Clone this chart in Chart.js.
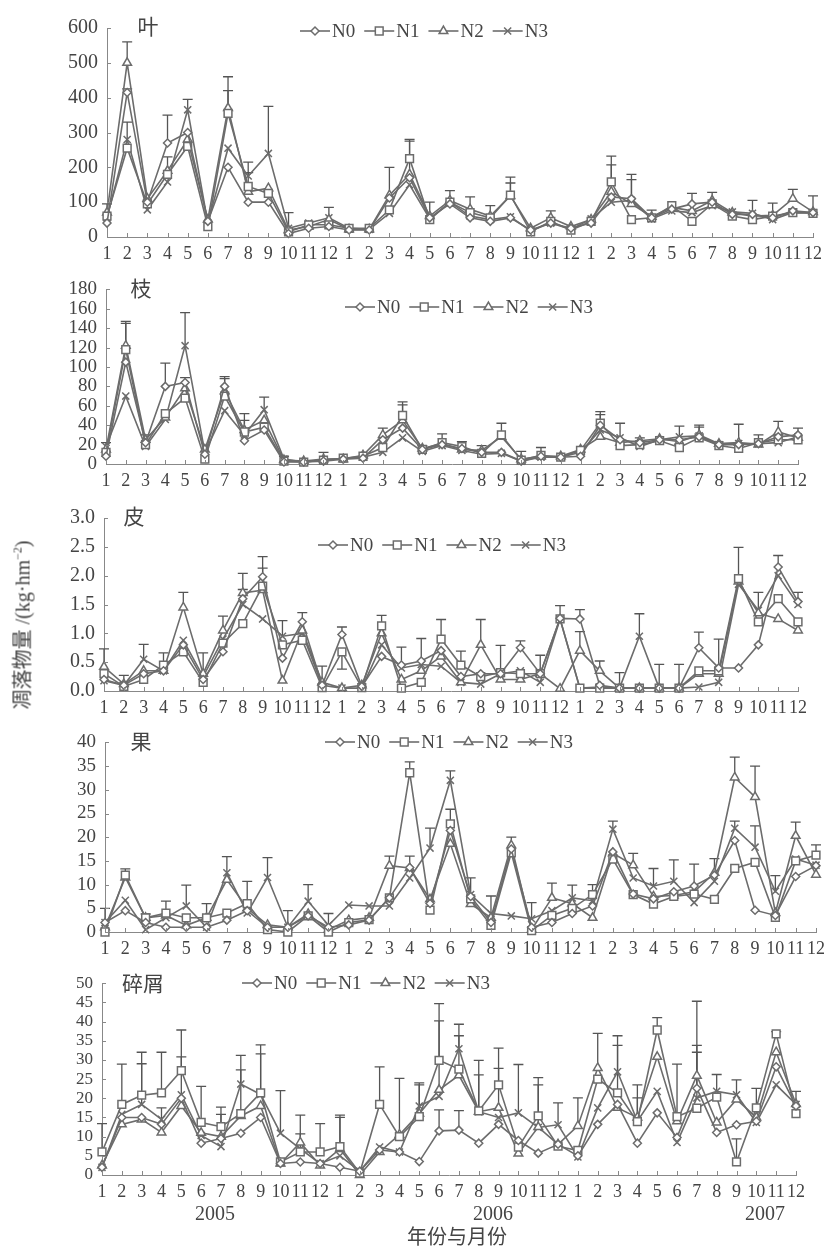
<!DOCTYPE html>
<html>
<head>
<meta charset="utf-8">
<script src="https://cdn.jsdelivr.net/npm/chart.js@4.4.0/dist/chart.umd.min.js"></script>
<style>
  body { margin: 0; background: #fff; }
  #wrap { position: relative; width: 835px; height: 1247px; overflow: hidden; }
  .pn { position: absolute; left: 0; width: 835px; }
  .txt { position: absolute; color: #444; white-space: nowrap;
         font-family: "Liberation Serif", "Noto Sans CJK SC", serif; }
</style>
</head>
<body>
<div id="wrap">
  <div class="pn" id="p1"><canvas id="c1"></canvas></div>
  <div class="pn" id="p2"><canvas id="c2"></canvas></div>
  <div class="pn" id="p3"><canvas id="c3"></canvas></div>
  <div class="pn" id="p4"><canvas id="c4"></canvas></div>
  <div class="pn" id="p5"><canvas id="c5"></canvas></div>
</div>
<script>
// ---- data: monthly litterfall, Jan 2005 .. Dec 2007 ----
const months = ['1','2','3','4','5','6','7','8','9','10','11','12',
                '1','2','3','4','5','6','7','8','9','10','11','12',
                '1','2','3','4','5','6','7','8','9','10','11','12'];
const seriesNames = ['N0', 'N1', 'N2', 'N3'];

// 叶
const leafN0 = [40,415,100,270,300,45,200,100,100,10,25,30, 20,20,112,170,55,95,55,45,55,20,40,25, 40,115,110,55,80,95,100,65,65,55,75,70];
const leafN1 = [60,255,95,180,260,30,355,145,125,15,35,35, 25,25,78,225,50,100,70,55,120,15,45,20, 45,158,50,55,90,45,95,60,50,60,70,68];
const leafN2 = [70,500,110,190,280,50,370,130,140,20,30,50, 22,22,120,180,60,105,80,60,118,25,55,30, 50,130,95,58,85,75,105,70,60,62,110,72];
const leafN3 = [55,280,78,158,365,40,255,175,240,25,40,55, 25,22,68,150,52,100,60,50,58,18,40,22, 52,100,105,52,75,70,90,72,68,50,70,70];
// error bar tops: [month index, series index, top value]
const leafErr = [[0,1,95],[1,2,560],[1,0,425],[1,3,330],[3,0,350],[3,1,230],[4,3,395],[6,2,460],[6,1,420],
  [7,3,215],[7,1,185],[8,3,375],[9,3,70],[11,3,85],[14,0,200],[15,1,280],[15,0,275],[16,2,100],[17,1,133],
  [18,2,115],[19,2,90],[20,1,172],[20,2,155],[22,2,75],[25,1,232],[25,2,207],[26,0,180],[26,3,165],[27,2,77],
  [29,0,125],[30,2,128],[32,3,105],[33,2,97],[34,2,137],[35,2,118]];

// 枝
const twigN0 = [8,105,22,80,84,10,80,24,35,2,2,3, 5,6,25,37,15,20,16,12,12,3,8,7, 8,40,25,22,25,25,28,20,20,21,28,30];
const twigN1 = [12,118,20,52,68,5,70,33,38,3,2,4, 6,8,17,50,15,22,18,11,30,4,9,7, 14,42,19,20,24,17,27,19,16,22,25,25];
const twigN2 = [15,122,25,48,78,15,75,35,45,4,3,5, 5,9,30,45,16,21,15,14,28,5,8,8, 15,28,22,24,26,23,30,21,22,20,33,27];
const twigN3 = [18,70,18,46,122,12,55,30,56,5,2,4, 6,7,12,27,13,19,14,10,11,3,7,7, 12,35,27,18,25,28,29,20,21,21,22,28];
const twigErr = [[0,3,22],[1,2,147],[1,1,145],[2,2,30],[3,0,104],[4,3,156],[4,0,89],[6,0,90],[6,2,88],[7,2,52],
  [7,1,45],[8,3,69],[9,3,8],[11,2,12],[14,2,37],[15,1,64],[15,2,61],[16,1,19],[17,1,31],[18,1,23],[19,2,19],
  [20,2,42],[21,3,13],[22,2,17],[25,1,54],[25,0,51],[26,0,42],[27,2,27],[29,3,39],[30,3,40],[30,2,38],
  [32,3,41],[33,2,30],[34,2,44],[35,2,37]];

// 皮
const barkN0 = [0.2,0.1,0.3,0.35,0.8,0.2,0.68,1.6,1.98,0.57,1.2,0.1, 0.98,0.08,0.6,0.45,0.52,0.7,0.25,0.3,0.3,0.75,0.3,1.26, 1.25,0.1,0.05,0.05,0.05,0.05,0.75,0.4,0.4,0.8,2.15,1.55];
const barkN1 = [0.3,0.08,0.2,0.45,0.68,0.15,0.83,1.17,1.82,0.8,0.88,0.06, 0.68,0.06,1.13,0.05,0.15,0.9,0.45,0.25,0.32,0.3,0.3,1.25, 0.05,0.05,0.05,0.05,0.05,0.05,0.35,0.35,1.95,1.2,1.6,1.2];
const barkN2 = [0.42,0.12,0.35,0.35,1.45,0.3,1.05,1.7,1.75,0.18,1.05,0.15, 0.05,0.1,1.0,0.2,0.35,0.6,0.15,0.8,0.2,0.2,0.3,0.04, 0.7,0.35,0.05,0.05,0.05,0.05,0.3,0.3,1.9,1.35,1.25,1.05];
const barkN3 = [0.18,0.1,0.55,0.35,0.88,0.25,0.9,1.5,1.25,0.95,1.0,0.1, 0.05,0.05,0.8,0.4,0.46,0.43,0.15,0.12,0.3,0.35,0.15,1.25, 0.05,0.07,0.05,0.95,0.05,0.05,0.07,0.15,1.85,1.4,2.0,1.5];
const barkErr = [[0,2,0.73],[1,1,0.27],[2,3,0.81],[3,1,0.66],[4,2,1.71],[5,2,0.66],[6,2,1.3],[7,2,2.04],[7,0,1.76],
  [8,0,2.33],[8,1,2.13],[9,3,1.22],[10,0,1.36],[11,2,0.43],[12,0,1.11],[12,1,0.38],[14,1,1.31],[15,0,0.76],
  [16,0,0.91],[17,1,1.24],[18,1,0.69],[19,2,1.24],[20,0,0.79],[21,0,0.87],[22,1,0.62],[23,0,1.48],[24,0,1.41],
  [24,2,1.03],[25,2,0.52],[26,2,0.32],[27,3,1.34],[28,0,0.46],[29,0,0.46],[30,0,1.02],[31,1,0.9],[32,1,2.49],
  [33,3,1.71],[34,0,2.35],[35,0,1.71]];

// 果
const fruitN0 = [2,4.5,2,1,1,1,2.5,4.5,1,1,3.4,1, 1.5,2.5,7.2,13.6,6,21.4,7.5,2,17.5,1,2,3.9, 5.5,16.9,8,7,8.5,9.7,12,19.3,4.6,3.5,11.7,14];
const fruitN1 = [0,12,3,4,3,3,4,6,0.5,0,3.4,0, 2,2.6,7.2,33.6,4.6,22.8,7,1.4,16.7,0.3,3.5,5, 7.9,15.4,7.9,5.9,7.5,8,6.9,13.4,14.7,3.1,15,16.2];
const fruitN2 = [1,11.5,3,3.5,1.4,3,11,5,1.5,1,3.8,0.5, 2.5,3,14,13.5,6.9,18.6,5.9,3,18.3,0.5,7.2,6, 3,16.6,14.1,7.5,7.7,8.5,12.5,32.6,28.5,4,20.3,12.1];
const fruitN3 = [2,6.7,0.5,3,5.5,1,12.5,4,11.5,1,6.5,1.4, 5.7,5.5,5.5,11.4,17.7,32,7.9,3.9,3.4,2.8,4.5,7.2, 6.6,21.7,11.4,9.7,10.7,6.2,10.7,21.9,17.9,8.6,15.4,14.1];
const fruitErr = [[0,3,5],[1,1,13.3],[2,1,3.8],[3,1,6.5],[4,3,9.9],[5,1,6],[6,3,15.9],[7,1,10.7],[8,3,15.7],
  [9,3,4.5],[10,3,10],[11,3,3.9],[14,2,16],[15,1,35.9],[15,0,16],[16,3,21.9],[17,3,34],[17,1,25.9],[18,3,11.4],
  [19,3,7.6],[20,2,20],[21,3,6.2],[22,2,10.3],[23,3,9.9],[24,1,10],[25,3,23.4],[26,2,16.6],[27,3,13.4],
  [28,3,15.2],[29,0,14.3],[30,2,15.5],[31,2,36.9],[31,3,23.4],[32,2,35],[32,3,22.4],[33,3,11.9],[34,2,23.2],
  [35,1,18.4]];

// 碎屑
const debrisN0 = [2,15,15,13.2,20,8.3,9.5,10.9,15,3,3.4,3, 2,1,6.5,6,3.5,11.5,11.7,8.3,13.2,9,5.7,8, 5,13.2,18.4,8.3,16.2,9.8,22.6,11.1,13.1,14,28.2,18];
const debrisN1 = [6,18.4,20.8,21.4,27.2,13.7,12.6,16,21.4,3.4,6,6, 7.4,0.5,18.4,10,15.2,29.9,27.6,16.7,23.5,7.3,15.4,7.5, 6.4,25,21.4,13.9,37.8,15.2,17.4,20.3,3.4,17.5,36.8,16];
const debrisN2 = [2.5,13.2,14.5,11.1,18,11,10,15.4,18,3,8.5,2.5, 6.8,0,6,10.5,16,22.2,26,16.5,17.5,5.6,12.5,8, 12.8,27.9,17.5,15,30.8,14,25.9,13.7,19.7,15,32,18.5];
const debrisN3 = [2,15.8,18.4,14.5,20.9,10.3,7.4,23.7,21,10.9,6.8,3, 5,1,7.3,6,18,20.5,32.9,16.5,15,16.2,12.4,13.1, 4.7,17.5,26.9,14,21.8,8.5,20.1,21.8,20.9,13.7,23.5,18.4];
const debrisErr = [[0,1,13.4],[1,1,28.9],[2,1,32],[2,3,29],[3,1,32],[3,3,17.5],[4,1,37.8],[4,3,30.8],[5,1,23.1],
  [6,1,17.7],[6,2,15.8],[7,3,31.2],[7,1,27.4],[8,1,33.9],[8,3,31.6],[9,3,22],[10,2,15.6],[10,3,10.7],[11,1,13.4],
  [12,1,15.6],[12,2,15],[14,1,28.2],[15,2,25.2],[16,3,24],[16,2,23.5],[17,1,44.7],[17,2,40.2],[17,0,17],
  [18,3,39.3],[18,1,36.3],[18,0,16.8],[19,1,29.9],[19,3,26.1],[20,1,33.1],[20,2,27.8],[21,3,28.8],[22,1,25.4],
  [22,2,23.5],[23,3,18.8],[24,2,20.1],[25,2,36.9],[26,3,36.3],[26,1,33.8],[27,2,23.5],[27,1,20.1],[28,1,41],
  [29,1,28.9],[30,2,45.3],[30,0,33.8],[30,3,32],[31,3,26.2],[32,3,24.8],[32,1,9.4],[33,1,22.6],[34,1,37.4],
  [35,2,21.8]];

// ---- styling ----
const LINE = '#6c6c6c';
const INK = '#444';
const SERIF = '"Liberation Serif", "Noto Sans CJK SC", serif';
const markers = [
  { style: 'rectRot', r: 4 },
  { style: 'rect', r: 5.5 },
  { style: 'triangle', r: 5 },
  { style: 'crossRot', r: 5 }
];

// panel geometry (page pixels)
const panels = [
  { id: 'c1', wrap: 'p1', yTop: 23,  yZero: 237,  axisX: 107, lastX: 813, max: 600, step: 100, dec: 0, fs: 20,
    title: '叶', tx: 148, series: [leafN0, leafN1, leafN2, leafN3], errs: leafErr, leg: [300, 31] },
  { id: 'c2', wrap: 'p2', yTop: 285, yZero: 464,  axisX: 106, lastX: 798, max: 180, step: 20, dec: 0, fs: 19,
    title: '枝', tx: 141, series: [twigN0, twigN1, twigN2, twigN3], errs: twigErr, leg: [345, 307] },
  { id: 'c3', wrap: 'p3', yTop: 513, yZero: 691,  axisX: 104, lastX: 798, max: 3, step: 0.5, dec: 1, fs: 20,
    title: '皮', tx: 134, series: [barkN0, barkN1, barkN2, barkN3], errs: barkErr, leg: [318, 545] },
  { id: 'c4', wrap: 'p4', yTop: 738, yZero: 932,  axisX: 105, lastX: 816, max: 40, step: 5, dec: 0, fs: 19,
    title: '果', tx: 141, series: [fruitN0, fruitN1, fruitN2, fruitN3], errs: fruitErr, leg: [325, 742] },
  { id: 'c5', wrap: 'p5', yTop: 980, yZero: 1175, axisX: 102, lastX: 796, max: 50, step: 5, dec: 0, fs: 17,
    title: '碎屑', tx: 143, series: [debrisN0, debrisN1, debrisN2, debrisN3], errs: debrisErr, leg: [242, 983] }
];

const PAD_TOP = 16, X_H = 30;

function drawMarker(ctx, m, x, y) {
  ctx.save();
  ctx.fillStyle = '#fff';
  ctx.strokeStyle = LINE;
  ctx.lineWidth = 1.5;
  Chart.helpers.drawPoint(ctx, { pointStyle: m.style, radius: m.r, rotation: 0, borderWidth: 1.5 }, x, y);
  ctx.restore();
}

const extras = {
  id: 'extras',
  beforeDatasetsDraw(chart, args, opts) {
    const p = opts.panel;
    const ctx = chart.ctx, xs = chart.scales.x, ys = chart.scales.y;
    ctx.save();
    ctx.strokeStyle = '#555';
    ctx.lineWidth = 1.3;
    p.errs.forEach(([i, s, top]) => {
      const x = xs.getPixelForValue(i);
      const y0 = ys.getPixelForValue(p.series[s][i]);
      const y1 = ys.getPixelForValue(top);
      ctx.beginPath();
      ctx.moveTo(x, y0); ctx.lineTo(x, y1);
      ctx.moveTo(x - 5, y1); ctx.lineTo(x + 5, y1);
      ctx.stroke();
    });
    ctx.restore();
  },
  afterDraw(chart, args, opts) {
    const p = opts.panel;
    const ctx = chart.ctx, xs = chart.scales.x, ys = chart.scales.y;
    const ca = chart.chartArea;
    ctx.save();
    // inward tick marks
    ctx.strokeStyle = '#888';
    ctx.lineWidth = 1;
    ctx.beginPath();
    ys.ticks.forEach(t => {
      const y = Math.round(ys.getPixelForValue(t.value)) + 0.5;
      ctx.moveTo(ca.left, y); ctx.lineTo(ca.left + 4, y);
    });
    months.forEach((m, i) => {
      const x = Math.round(xs.getPixelForValue(i)) + 0.5;
      ctx.moveTo(x, ca.bottom); ctx.lineTo(x, ca.bottom - 4);
    });
    ctx.stroke();
    // legend
    const top = p.yTop - PAD_TOP;
    let x = p.leg[0];
    const y = p.leg[1] - top;
    ctx.font = '19px ' + SERIF;
    ctx.textBaseline = 'middle';
    ctx.fillStyle = INK;
    seriesNames.forEach((name, k) => {
      ctx.strokeStyle = LINE;
      ctx.lineWidth = 1.6;
      ctx.beginPath();
      ctx.moveTo(x, y); ctx.lineTo(x + 30, y);
      ctx.stroke();
      drawMarker(ctx, markers[k], x + 15, y);
      ctx.fillStyle = INK;
      ctx.fillText(name, x + 32, y + 1);
      x += 32 + ctx.measureText(name).width + 9;
    });
    ctx.restore();
  }
};

panels.forEach(p => {
  const top = p.yTop - PAD_TOP;
  const h = (p.yZero - top) + X_H;
  const wrap = document.getElementById(p.wrap);
  wrap.style.top = top + 'px';
  wrap.style.height = h + 'px';
  const cv = document.getElementById(p.id);
  cv.width = 835; cv.height = h;
  cv.style.width = '835px'; cv.style.height = h + 'px';

  // panel title
  const t = document.createElement('div');
  t.className = 'txt';
  t.style.fontSize = '21px';
  t.style.left = p.tx + 'px';
  t.style.top = (p.yTop + 2) + 'px';
  t.style.transform = 'translate(-50%,-50%)';
  t.textContent = p.title;
  document.getElementById('wrap').appendChild(t);

  new Chart(cv, {
    type: 'line',
    data: {
      labels: months,
      datasets: p.series.map((vals, k) => ({
        label: seriesNames[k],
        data: vals,
        borderColor: LINE,
        borderWidth: 1.6,
        tension: 0,
        pointStyle: markers[k].style,
        pointRadius: markers[k].r,
        pointBackgroundColor: '#fff',
        pointBorderColor: LINE,
        pointBorderWidth: 1.5,
        clip: 10
      }))
    },
    options: {
      responsive: false,
      animation: false,
      events: [],
      layout: { padding: { top: PAD_TOP, right: 835 - p.lastX, left: 0, bottom: 0 } },
      plugins: {
        legend: { display: false },
        tooltip: { enabled: false },
        extras: { panel: p }
      },
      scales: {
        x: {
          offset: false,
          afterFit: s => { s.height = X_H; },
          grid: { display: false, drawTicks: false },
          border: { display: true, color: '#888', width: 1 },
          ticks: { color: INK, font: { family: SERIF, size: 18 }, padding: 6,
                   autoSkip: false, maxRotation: 0, minRotation: 0 }
        },
        y: {
          min: 0, max: p.max,
          afterFit: s => { s.width = p.axisX; },
          grid: { display: false, drawTicks: false },
          border: { display: true, color: '#888', width: 1 },
          ticks: { stepSize: p.step, color: INK, font: { family: SERIF, size: p.fs }, padding: 9,
                   autoSkip: false, callback: v => Number(v).toFixed(p.dec) }
        }
      }
    },
    plugins: [extras]
  });
});

// shared texts
const wrapEl = document.getElementById('wrap');
function addText(html, x, y, size, extra) {
  const d = document.createElement('div');
  d.className = 'txt';
  d.style.fontSize = size + 'px';
  d.style.left = x + 'px';
  d.style.top = y + 'px';
  d.style.transform = 'translate(-50%,-50%)' + (extra || '');
  d.innerHTML = html;
  wrapEl.appendChild(d);
}
addText('2005', 215, 1213, 20);
addText('2006', 493, 1213, 20);
addText('2007', 765, 1213, 20);
addText('年份与月份', 457, 1235, 20);
addText('凋落物量 /(kg·hm<sup style="font-size:12px">−2</sup>)', 21, 625, 20, ' rotate(-90deg)');
</script>
</body>
</html>
